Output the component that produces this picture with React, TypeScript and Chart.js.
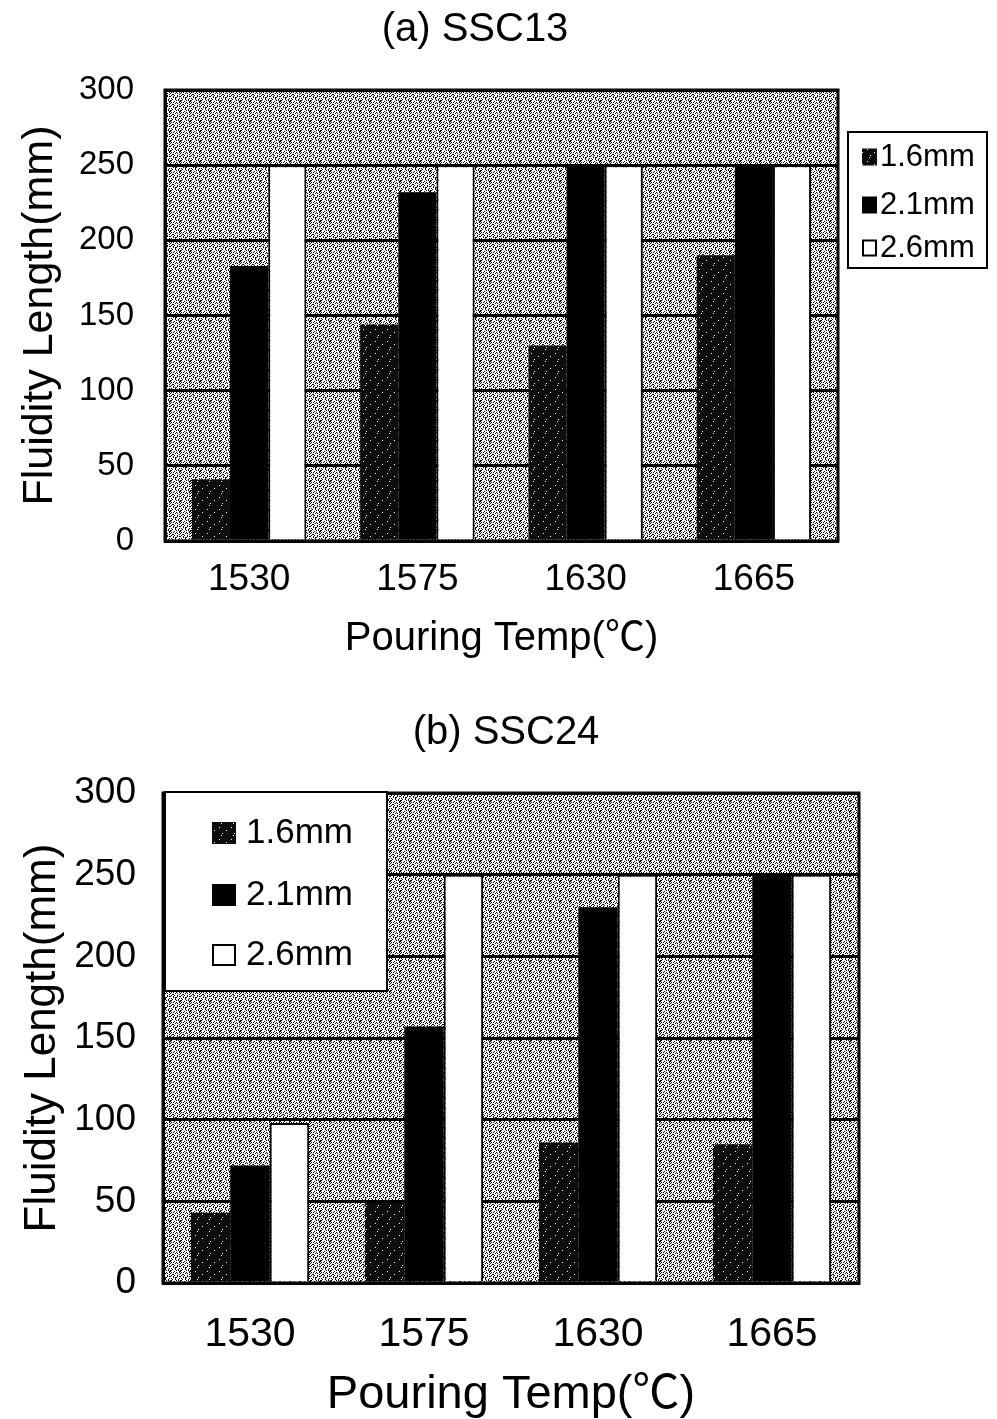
import React, { useEffect, useRef } from 'react';
import { Chart, registerables } from 'chart.js';

Chart.register(...registerables);

// ---------- data ----------
const categories = ['1530', '1575', '1630', '1665'];
const seriesLabels = ['1.6mm', '2.1mm', '2.6mm'];
const ssc13_16 = [41, 144, 130, 190];
const ssc13_21 = [183, 232, 250, 250];
const ssc13_26 = [250, 250, 250, 250];
const ssc24_16 = [43, 49, 86, 85];
const ssc24_21 = [72, 157, 230, 250];
const ssc24_26 = [98, 250, 250, 250];
const yMin = 0;
const yMax = 300;
const yStep = 50;
const xTitle = 'Pouring Temp(℃)';
const yTitle = 'Fluidity Length(mm)';

const FONT = "'Liberation Sans', 'Noto Sans CJK KR', sans-serif";

// texture tiles (style only)
const bgTile = [
  '##....#.#.',
  '#...#....#',
  '.#.#..#..#',
  '#....#.#..',
  '..##.....#',
  '.#..#..#..',
  '#..#...#.#',
  '...#.##...',
  '.#...#...#',
  '..#..#..#.',
];
const darkTile = [
  '............',
  '.....#......',
  '............',
  '............',
  '............',
  '...#........',
  '............',
  '............',
  '..........#.',
  '............',
  '............',
  '......#.....',
];

function makePattern(rows: string[], on: string, off: string): CanvasPattern | string {
  const c = document.createElement('canvas');
  c.width = rows[0].length;
  c.height = rows.length;
  const ctx = c.getContext('2d');
  if (!ctx) return off;
  ctx.fillStyle = off;
  ctx.fillRect(0, 0, c.width, c.height);
  ctx.fillStyle = on;
  rows.forEach((r, y) => {
    for (let x = 0; x < r.length; x++) if (r[x] === '#') ctx.fillRect(x, y, 1, 1);
  });
  return ctx.createPattern(c, 'repeat') || off;
}

type Params = {
  s16: number[];
  s21: number[];
  s26: number[];
  title: string;
  titleX: number;
  titleY: number;
  titleSize: number;
  padTop: number;
  padRight: number;
  padBottom: number;
  xAxisH: number;
  yAxisW: number;
  xTickSize: number;
  xTickPad: number;
  xTitleSize: number;
  xTitleLH: number;
  yTickSize: number;
  yTickPad: number;
  yTitleSize: number;
  yTitlePad: number;
  catPct: number;
  legend: {
    x0: number;
    y0: number;
    x1: number;
    y1: number;
    swX: number;
    swW: number;
    swH: number;
    textX: number;
    rows: number[];
    size: number;
  };
};

function buildChart(canvas: HTMLCanvasElement, p: Params) {
  const bgPat = makePattern(bgTile, '#000000', '#ffffff');
  const darkPat = makePattern(darkTile, '#ffffff', '#0d0d0d');

  const bgPlugin = {
    id: 'bgTexture',
    beforeDraw(chart: any) {
      const { ctx, chartArea } = chart;
      ctx.save();
      ctx.fillStyle = '#ffffff';
      ctx.fillRect(0, 0, chart.width, chart.height);
      ctx.fillStyle = bgPat;
      ctx.fillRect(chartArea.left, chartArea.top, chartArea.right - chartArea.left, chartArea.bottom - chartArea.top);
      ctx.restore();
    },
  };

  const decorPlugin = {
    id: 'decor',
    afterDatasetsDraw(chart: any) {
      const { ctx, chartArea } = chart;
      ctx.save();
      ctx.strokeStyle = '#000';
      ctx.lineWidth = 3;
      ctx.strokeRect(chartArea.left, chartArea.top, chartArea.right - chartArea.left, chartArea.bottom - chartArea.top);
      ctx.restore();
    },
    afterDraw(chart: any) {
      const { ctx } = chart;
      ctx.save();
      // title
      ctx.fillStyle = '#000';
      ctx.font = `${p.titleSize}px ${FONT}`;
      ctx.textAlign = 'center';
      ctx.textBaseline = 'middle';
      ctx.fillText(p.title, p.titleX, p.titleY);
      // legend
      const L = p.legend;
      ctx.fillStyle = '#fff';
      ctx.fillRect(L.x0, L.y0, L.x1 - L.x0, L.y1 - L.y0);
      ctx.strokeStyle = '#000';
      ctx.lineWidth = 2;
      ctx.strokeRect(L.x0, L.y0, L.x1 - L.x0, L.y1 - L.y0);
      const fills = [darkPat, '#000000', '#ffffff'];
      seriesLabels.forEach((lab, i) => {
        const cy = L.rows[i];
        ctx.fillStyle = fills[i] as any;
        ctx.fillRect(L.swX, cy - L.swH / 2, L.swW, L.swH);
        if (i === 2) {
          ctx.strokeStyle = '#000';
          ctx.lineWidth = 2;
          ctx.strokeRect(L.swX + 1, cy - L.swH / 2 + 1, L.swW - 2, L.swH - 2);
        }
        ctx.fillStyle = '#000';
        ctx.font = `${L.size}px ${FONT}`;
        ctx.textAlign = 'left';
        ctx.textBaseline = 'middle';
        ctx.fillText(lab, L.textX, cy);
      });
      ctx.restore();
    },
  };

  const common = { categoryPercentage: p.catPct, barPercentage: 1 };

  return new Chart(canvas, {
    type: 'bar',
    data: {
      labels: categories,
      datasets: [
        { label: seriesLabels[0], data: p.s16, backgroundColor: darkPat as any, borderWidth: 0, ...common },
        { label: seriesLabels[1], data: p.s21, backgroundColor: '#000000', borderWidth: 0, ...common },
        { label: seriesLabels[2], data: p.s26, backgroundColor: '#ffffff', borderColor: '#000000', borderWidth: 2, ...common },
      ],
    },
    options: {
      responsive: false,
      animation: false,
      layout: { padding: { top: p.padTop, left: 0, right: p.padRight, bottom: p.padBottom } },
      plugins: {
        legend: { display: false },
        title: { display: false },
        tooltip: { enabled: false },
      },
      scales: {
        x: {
          grid: { display: false, drawTicks: false },
          border: { display: true, color: '#000', width: 3 },
          ticks: { color: '#000', font: { family: FONT, size: p.xTickSize }, padding: p.xTickPad },
          title: {
            display: true,
            text: xTitle,
            color: '#000',
            font: { family: FONT, size: p.xTitleSize, lineHeight: p.xTitleLH },
            padding: { top: 0, bottom: 0 },
          },
          afterFit: (s: any) => {
            s.height = p.xAxisH;
          },
        },
        y: {
          min: yMin,
          max: yMax,
          grid: { color: '#000', lineWidth: 3, drawTicks: false },
          border: { display: true, color: '#000', width: 3 },
          ticks: { stepSize: yStep, color: '#000', font: { family: FONT, size: p.yTickSize }, padding: p.yTickPad },
          title: {
            display: true,
            text: yTitle,
            color: '#000',
            font: { family: FONT, size: p.yTitleSize },
            padding: { top: p.yTitlePad, bottom: 0 },
          },
          afterFit: (s: any) => {
            s.width = p.yAxisW;
          },
        },
      },
    } as any,
    plugins: [bgPlugin, decorPlugin],
  });
}

const topParams: Params = {
  s16: ssc13_16,
  s21: ssc13_21,
  s26: ssc13_26,
  title: '(a) SSC13',
  titleX: 475,
  titleY: 30,
  titleSize: 40,
  padTop: 90,
  padRight: 159,
  padBottom: 27,
  xAxisH: 122,
  yAxisW: 165,
  xTickSize: 37,
  xTickPad: 17,
  xTitleSize: 40,
  xTitleLH: 1.2,
  yTickSize: 33,
  yTickPad: 31,
  yTitleSize: 43,
  yTitlePad: 14,
  catPct: 0.68,
  legend: { x0: 848, y0: 132, x1: 987, y1: 268, swX: 862, swW: 15, swH: 17, textX: 880, rows: [157, 205, 248], size: 31 },
};

const bottomParams: Params = {
  s16: ssc24_16,
  s21: ssc24_21,
  s26: ssc24_26,
  title: '(b) SSC24',
  titleX: 506,
  titleY: 43,
  titleSize: 40,
  padTop: 103,
  padRight: 138,
  padBottom: 2,
  xAxisH: 134,
  yAxisW: 163,
  xTickSize: 41,
  xTickPad: 27,
  xTitleSize: 47,
  xTitleLH: 0.94,
  yTickSize: 37,
  yTickPad: 27,
  yTitleSize: 44,
  yTitlePad: 16,
  catPct: 0.68,
  legend: { x0: 165, y0: 102, x1: 387, y1: 301, swX: 212, swW: 24, swH: 22, textX: 246, rows: [143, 205, 265], size: 35 },
};

export default function App() {
  const topRef = useRef<HTMLCanvasElement | null>(null);
  const botRef = useRef<HTMLCanvasElement | null>(null);

  useEffect(() => {
    const charts: Chart[] = [];
    if (topRef.current) charts.push(buildChart(topRef.current, topParams));
    if (botRef.current) charts.push(buildChart(botRef.current, bottomParams));
    return () => charts.forEach((c) => c.destroy());
  }, []);

  return (
    <div style={{ position: 'absolute', left: 0, top: 0, width: 997, height: 1419, background: '#fff', overflow: 'hidden' }}>
      <canvas ref={topRef} width={997} height={690} style={{ position: 'absolute', left: 0, top: 0, width: 997, height: 690 }} />
      <canvas ref={botRef} width={997} height={729} style={{ position: 'absolute', left: 0, top: 690, width: 997, height: 729 }} />
    </div>
  );
}
